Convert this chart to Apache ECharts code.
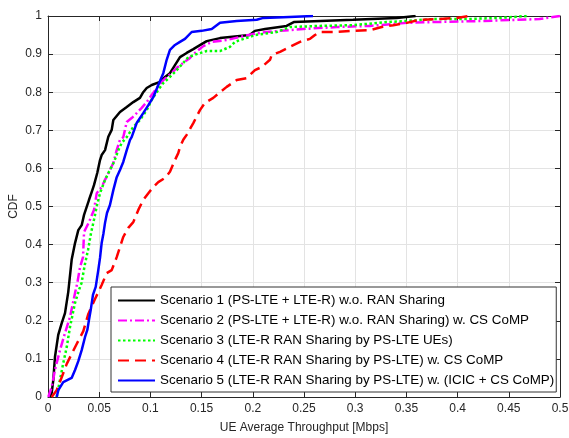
<!DOCTYPE html>
<html>
<head>
<meta charset="utf-8">
<script src="https://cdn.jsdelivr.net/npm/echarts@6/dist/echarts.min.js"></script>
<style>html,body{margin:0;padding:0;background:#fff}#c{width:569px;height:438px}</style>
</head>
<body>
<div id="c"></div>
<script>
var seriesNames = [
  'Scenario 1 (PS-LTE + LTE-R) w.o. RAN Sharing',
  'Scenario 2 (PS-LTE + LTE-R) w.o. RAN Sharing) w. CS CoMP',
  'Scenario 3 (LTE-R RAN Sharing by PS-LTE UEs)',
  'Scenario 4 (LTE-R RAN Sharing by PS-LTE) w. CS CoMP',
  'Scenario 5 (LTE-R RAN Sharing by PS-LTE) w. (ICIC + CS CoMP)'
];
var xTicks = [0,0.05,0.1,0.15,0.2,0.25,0.3,0.35,0.4,0.45,0.5];
var yTicks = [0,0.1,0.2,0.3,0.4,0.5,0.6,0.7,0.8,0.9,1];

var s1 = [[0.002,0],[0.0036,0.011],[0.0052,0.045],[0.0068,0.105],[0.010,0.163],[0.0134,0.194],[0.0166,0.22],[0.0198,0.276],[0.0231,0.36],[0.0264,0.404],[0.0296,0.438],[0.0329,0.451],[0.0352,0.478],[0.040,0.517],[0.0433,0.543],[0.0449,0.556],[0.0481,0.588],[0.0508,0.622],[0.0524,0.635],[0.0557,0.648],[0.0589,0.683],[0.0622,0.701],[0.0638,0.727],[0.0703,0.748],[0.0769,0.761],[0.0833,0.774],[0.0898,0.785],[0.093,0.80],[0.0964,0.811],[0.1013,0.819],[0.1094,0.827],[0.1143,0.84],[0.1191,0.85],[0.124,0.871],[0.1289,0.892],[0.1354,0.903],[0.1419,0.913],[0.150,0.926],[0.155,0.934],[0.168,0.942],[0.197,0.95],[0.202,0.961],[0.212,0.966],[0.233,0.974],[0.240,0.984],[0.266,0.987],[0.298,0.99],[0.3405,0.995],[0.359,1.0]];
var s2 = [[0.0003,0],[0.0036,0.026],[0.0068,0.071],[0.0117,0.123],[0.0166,0.168],[0.0215,0.21],[0.0264,0.273],[0.0286,0.299],[0.0313,0.341],[0.0342,0.367],[0.0352,0.433],[0.040,0.459],[0.0449,0.491],[0.0476,0.535],[0.0524,0.551],[0.0557,0.57],[0.0605,0.596],[0.0638,0.614],[0.0671,0.648],[0.0703,0.675],[0.0735,0.682],[0.0769,0.722],[0.0817,0.732],[0.0866,0.745],[0.0915,0.759],[0.0964,0.774],[0.1013,0.793],[0.1062,0.811],[0.111,0.827],[0.116,0.84],[0.1208,0.85],[0.1257,0.864],[0.1321,0.877],[0.1387,0.89],[0.142,0.90],[0.1517,0.921],[0.16,0.932],[0.1745,0.937],[0.1875,0.945],[0.2005,0.953],[0.2136,0.958],[0.2266,0.961],[0.2493,0.966],[0.282,0.971],[0.3145,0.974],[0.3503,0.982],[0.376,0.984],[0.4248,0.987],[0.4577,0.99],[0.48,0.992],[0.5,1.0]];
var s3 = [[0.0085,0],[0.0117,0.045],[0.0149,0.089],[0.0183,0.131],[0.0215,0.184],[0.0264,0.247],[0.0303,0.281],[0.0327,0.299],[0.0361,0.349],[0.0391,0.386],[0.042,0.43],[0.0449,0.465],[0.0479,0.504],[0.0508,0.535],[0.0557,0.57],[0.0605,0.596],[0.0645,0.617],[0.0687,0.648],[0.072,0.667],[0.0769,0.682],[0.0833,0.709],[0.0898,0.727],[0.0964,0.753],[0.1013,0.78],[0.1077,0.806],[0.1126,0.824],[0.1191,0.84],[0.1257,0.858],[0.1321,0.877],[0.137,0.892],[0.1452,0.90],[0.155,0.908],[0.168,0.908],[0.1777,0.919],[0.1826,0.932],[0.1875,0.937],[0.1973,0.945],[0.2021,0.95],[0.2233,0.958],[0.2363,0.971],[0.2656,0.974],[0.2979,0.976],[0.3308,0.984],[0.3503,0.987],[0.376,0.992],[0.4089,0.992],[0.4414,0.995],[0.4675,1.0]];
var s4 = [[0.0036,0],[0.0085,0.018],[0.0134,0.052],[0.0183,0.087],[0.0231,0.113],[0.028,0.139],[0.0345,0.173],[0.0394,0.218],[0.0459,0.257],[0.0524,0.294],[0.0573,0.325],[0.0622,0.333],[0.0671,0.367],[0.0703,0.394],[0.0735,0.42],[0.0784,0.444],[0.0833,0.459],[0.0882,0.491],[0.093,0.517],[0.098,0.535],[0.1028,0.551],[0.1077,0.564],[0.1143,0.575],[0.1191,0.591],[0.124,0.622],[0.1272,0.64],[0.1289,0.656],[0.1321,0.675],[0.1354,0.688],[0.1419,0.719],[0.1484,0.753],[0.1533,0.772],[0.1614,0.785],[0.168,0.80],[0.1745,0.814],[0.1843,0.832],[0.194,0.837],[0.2021,0.858],[0.2087,0.866],[0.2168,0.885],[0.2185,0.898],[0.2266,0.906],[0.2363,0.919],[0.2461,0.932],[0.2559,0.94],[0.2607,0.95],[0.2656,0.958],[0.2786,0.958],[0.2981,0.961],[0.3145,0.963],[0.3259,0.971],[0.3372,0.976],[0.3503,0.982],[0.3633,0.99],[0.3828,0.992],[0.3991,0.995],[0.412,1.0]];
var s5 = [[0.0085,0],[0.0101,0.018],[0.0149,0.039],[0.0231,0.05],[0.0264,0.071],[0.0296,0.094],[0.0329,0.123],[0.0361,0.157],[0.0384,0.176],[0.04,0.202],[0.0417,0.228],[0.0439,0.268],[0.0466,0.289],[0.0491,0.333],[0.0508,0.365],[0.0524,0.404],[0.0542,0.43],[0.0557,0.457],[0.0576,0.483],[0.0605,0.504],[0.0638,0.543],[0.0671,0.577],[0.0703,0.596],[0.0735,0.617],[0.0769,0.648],[0.0801,0.675],[0.0817,0.682],[0.0866,0.719],[0.093,0.745],[0.098,0.766],[0.1028,0.787],[0.1077,0.819],[0.1126,0.85],[0.1159,0.885],[0.1191,0.911],[0.124,0.924],[0.1289,0.932],[0.1338,0.94],[0.1403,0.958],[0.150,0.961],[0.1599,0.966],[0.168,0.982],[0.1843,0.987],[0.2038,0.99],[0.2103,0.995],[0.2298,0.997],[0.2588,1.0]];

var FONT = "'Liberation Sans', Arial, sans-serif";
var AX = '#262626';
function fmt(v){ return String(+(+v).toFixed(2)); }

var chart = echarts.init(document.getElementById('c'), null, {renderer:'canvas'});
var styles = [
  {color:'#000000', type:'solid'},
  {color:'#ff00ff', type:[9,3,2,3]},
  {color:'#00ff00', type:[2.5,2.5]},
  {color:'#ff0000', type:[11,6]},
  {color:'#0000ff', type:'solid'}
];
var datas = [s1,s2,s3,s4,s5];
var series = datas.map(function(d,i){
  return {
    name: seriesNames[i], type:'line', data:d, xAxisIndex:0, yAxisIndex:0,
    symbol:'none', showSymbol:false, animation:false,
    lineStyle:{color:styles[i].color, width:2.5, type:styles[i].type, cap:'butt'},
    itemStyle:{color:styles[i].color}
  };
});

chart.setOption({
  backgroundColor:'#fff',
  animation:false,
  textStyle:{fontFamily:FONT},
  grid:{left:48, right:9, top:16, bottom:41, containLabel:false, outerBoundsMode:'none'},
  xAxis:[{
    type:'value', min:0, max:0.5, interval:0.05, position:'bottom',
    name:'UE Average Throughput [Mbps]', nameLocation:'middle', nameGap:25, nameMoveOverlap:false,
    nameTextStyle:{fontFamily:FONT, fontSize:12, color:AX},
    axisLine:{show:true, lineStyle:{color:AX, width:1}},
    axisTick:{show:true, inside:true, length:5, lineStyle:{color:AX}},
    axisLabel:{fontFamily:FONT, fontSize:12, color:AX, margin:6, formatter:fmt},
    splitLine:{show:true, lineStyle:{color:'#e3e3e3', width:1}}
  },{
    type:'value', min:0, max:0.5, interval:0.05, position:'top',
    axisLine:{show:true, onZero:false, lineStyle:{color:AX, width:1}},
    axisTick:{show:true, inside:true, length:5, lineStyle:{color:AX}},
    axisLabel:{show:false}, splitLine:{show:false}
  }],
  yAxis:[{
    type:'value', min:0, max:1, interval:0.1, position:'left',
    name:'CDF', nameLocation:'middle', nameGap:28, nameRotate:90, nameMoveOverlap:false,
    nameTextStyle:{fontFamily:FONT, fontSize:12, color:AX},
    axisLine:{show:true, lineStyle:{color:AX, width:1}},
    axisTick:{show:true, inside:true, length:5, lineStyle:{color:AX}},
    axisLabel:{fontFamily:FONT, fontSize:12, color:AX, margin:6, formatter:fmt},
    splitLine:{show:true, lineStyle:{color:'#e3e3e3', width:1}}
  },{
    type:'value', min:0, max:1, interval:0.1, position:'right',
    axisLine:{show:true, onZero:false, lineStyle:{color:AX, width:1}},
    axisTick:{show:true, inside:true, length:5, lineStyle:{color:AX}},
    axisLabel:{show:false}, splitLine:{show:false}
  }],
  legend:{
    orient:'vertical', left:111, top:287,
    padding:[7,2,5,6], itemGap:7, itemWidth:37, itemHeight:14,
    backgroundColor:'#fff', borderColor:'#333', borderWidth:1,
    itemStyle:{opacity:0},
    textStyle:{fontFamily:FONT, fontSize:13.4, color:'#000'},
    data:seriesNames
  },
  series:series
});
</script>
</body>
</html>
